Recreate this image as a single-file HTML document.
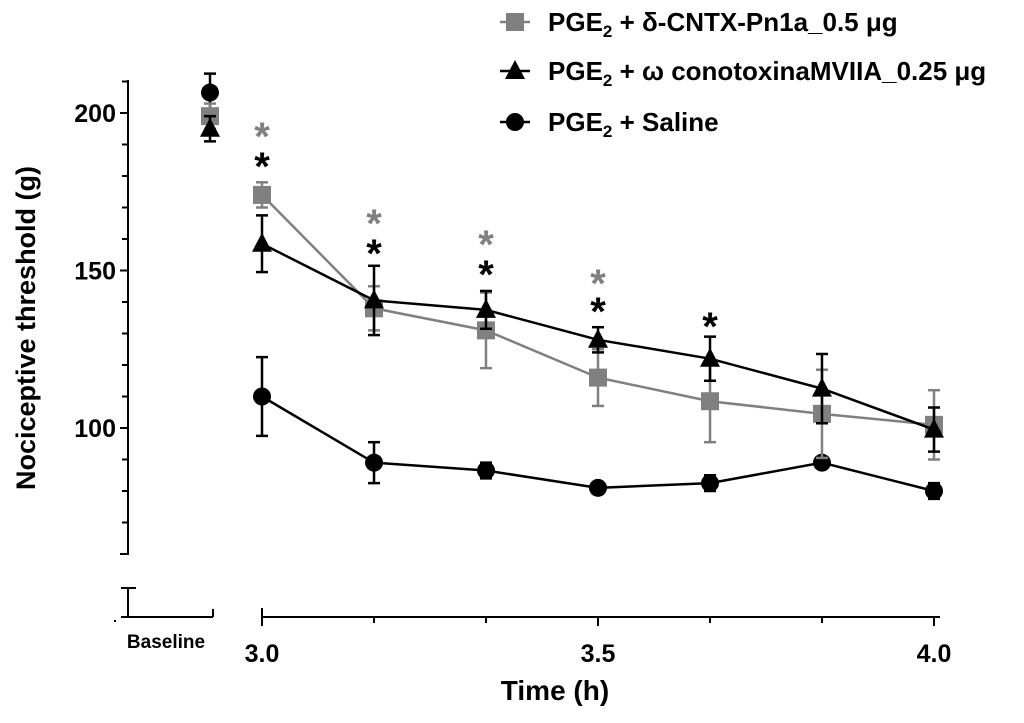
<!DOCTYPE html>
<html><head><meta charset="utf-8"><style>
body{margin:0;background:#fff;}
svg text{font-family:"Liberation Sans",Arial,sans-serif;font-weight:bold;}
</style></head><body>
<svg id="c" width="1024" height="718" viewBox="0 0 1024 718" xmlns="http://www.w3.org/2000/svg"></svg>
<script>
const times=[3.0,3.1667,3.3333,3.5,3.6667,3.8333,4.0];
const sqBase=199, sqBaseErr=4;
const sqVals=[174,138,131,116,108.5,104.5,101];
const sqErr=[4,7,12,9,13,14,11];
const trBase=195, trBaseErr=4;
const trVals=[158.5,140.5,137.5,128,122,112.5,99.5];
const trErr=[9,11,6,4,7,11,7];
const ciBase=206.5, ciBaseErr=6;
const ciVals=[110,89,86.5,81,82.5,89,80];
const ciErr=[12.5,6.5,2.5,1.5,2.5,1.5,2.5];
const grayStars=[3.0,3.1667,3.3333,3.5];
const blackStars=[3.0,3.1667,3.3333,3.5,3.6667];
const yTicks=[100,150,200];
const xTicks=[3.0,3.5,4.0];

const NS="http://www.w3.org/2000/svg";
const svg=document.getElementById('c');
const X=t=>262+(t-3)*672;
const Y=v=>113+(200-v)*3.15;
const BX=210;
function el(tag,a,name,parent){const e=document.createElementNS(NS,tag);for(const k in a)e.setAttribute(k,a[k]);


(parent||svg).appendChild(e);return e;}
function txt(x,y,s,a,name){const e=el('text',Object.assign({x:x,y:y},a),name);e.textContent=s;return e;}
const K='#000',G='#808080';
el('line',{x1:128,y1:80,x2:128,y2:555,stroke:K,'stroke-width':2},'y-axis');
for(let v=60;v<=210;v+=10){const maj=v%50===0;el('line',{x1:maj||v===60?120:122,y1:Y(v),x2:128,y2:Y(v),stroke:K,'stroke-width':2},'y-tick');}
yTicks.forEach(v=>txt(116,Y(v)+9,String(v),{'font-size':25,'text-anchor':'end'},'y-tick-label'));
el('line',{x1:128,y1:588,x2:128,y2:617,stroke:K,'stroke-width':2},'y-axis-lower');
el('line',{x1:121,y1:588,x2:136,y2:588,stroke:K,'stroke-width':2},'y-break-tick');
el('line',{x1:121,y1:617,x2:213,y2:617,stroke:K,'stroke-width':2},'x-axis-baseline');
el('line',{x1:213,y1:609,x2:213,y2:617,stroke:K,'stroke-width':2},'x-tick-baseline');
el('rect',{x:114,y:620,width:2,height:2,fill:K},'axis-dot');
txt(166,648,'Baseline',{'font-size':19,'text-anchor':'middle'},'x-tick-label-baseline');
el('line',{x1:262,y1:617,x2:940,y2:617,stroke:K,'stroke-width':2},'x-axis');
times.forEach((t,i)=>{el('line',{x1:X(t),y1:617,x2:X(t),y2:xTicks.includes(t)?626:623,stroke:K,'stroke-width':2},'x-tick');});
el('line',{x1:262,y1:608,x2:262,y2:617,stroke:K,'stroke-width':2},'x-tick-start');
xTicks.forEach(t=>txt(X(t),662,t.toFixed(1),{'font-size':25,'text-anchor':'middle'},'x-tick-label'));
txt(555,700,'Time (h)',{'font-size':28,'text-anchor':'middle'},'x-axis-title');
txt(0,0,'Nociceptive threshold (g)',{'font-size':27,'text-anchor':'middle',transform:'translate(35,328) rotate(-90)'},'y-axis-title');
function errbar(x,v,e,c,name){el('line',{x1:x,y1:Y(v+e),x2:x,y2:Y(v-e),stroke:c,'stroke-width':2.5},name);
[v+e,v-e].forEach(w=>el('line',{x1:x-6,y1:Y(w),x2:x+6,y2:Y(w),stroke:c,'stroke-width':2.5},name+'-cap'));}
function marker(type,x,y,c,name){
 if(type==='sq')el('rect',{x:x-9,y:y-9,width:18,height:18,fill:c},name);
 else if(type==='tr')el('polygon',{points:`${x},${y-11} ${x-10},${y+8} ${x+10},${y+8}`,fill:c},name);
 else el('circle',{cx:x,cy:y,r:9,fill:c},name);}
function series(type,c,base,be,vals,err,name){
 errbar(BX,base,be,c,name+'-err-baseline');
 vals.forEach((v,i)=>errbar(X(times[i]),v,err[i],c,name+'-err'));
 el('polyline',{points:vals.map((v,i)=>X(times[i])+','+Y(v)).join(' '),fill:'none',stroke:c,'stroke-width':2.5},name+'-line');
 marker(type,BX,Y(base),c,name+'-point-baseline');
 vals.forEach((v,i)=>marker(type,X(times[i]),Y(v),c,name+'-point'));}
series('ci',K,ciBase,ciBaseErr,ciVals,ciErr,'saline');
series('sq',G,sqBase,sqBaseErr,sqVals,sqErr,'cntx');
series('tr',K,trBase,trBaseErr,trVals,trErr,'conotoxin');
const gs={3.0:150,3.1667:237,3.3333:258,3.5:297};
const bs={3.0:180,3.1667:267,3.3333:288,3.5:325,3.6667:340};
grayStars.forEach(t=>txt(X(t),gs[t],'*',{'font-size':40,'text-anchor':'middle',fill:G},'significance-star-gray'));
blackStars.forEach(t=>txt(X(t),bs[t],'*',{'font-size':40,'text-anchor':'middle',fill:K},'significance-star-black'));
const lg=[['sq',G,22,'cntx'],['tr',K,71,'conotoxin'],['ci',K,122,'saline']];
lg.forEach(l=>{el('line',{x1:500,y1:l[2],x2:530,y2:l[2],stroke:l[1],'stroke-width':2.5},'legend-line-'+l[3]);marker(l[0],515,l[2],l[1],'legend-marker-'+l[3]);});
function leg(y,html,name){const t=el('text',{x:548,y:y+9,'font-size':26,'xml:space':'preserve'},name);t.innerHTML=html;}
leg(22,'PGE<tspan font-size="17" dy="6">2</tspan><tspan dy="-6"> +   δ-CNTX-Pn1a_0.5 μg</tspan>','legend-entry-cntx');
leg(71,'PGE<tspan font-size="17" dy="6">2</tspan><tspan dy="-6"> + ω  conotoxinaMVIIA_0.25 μg</tspan>','legend-entry-conotoxin');
leg(122,'PGE<tspan font-size="17" dy="6">2</tspan><tspan dy="-6"> + Saline</tspan>','legend-entry-saline');
</script>
</body></html>
